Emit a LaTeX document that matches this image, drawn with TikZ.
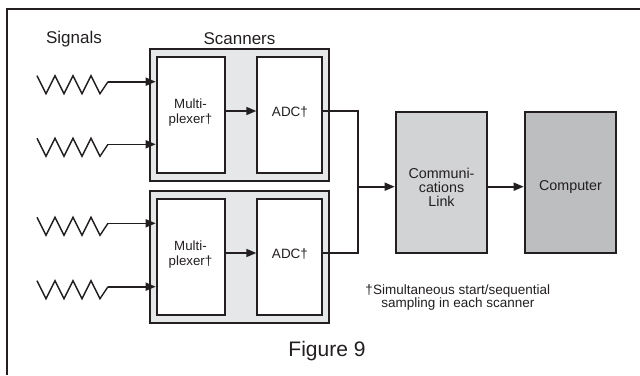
\documentclass[tikz,border=0pt]{standalone}
\usepackage{fontspec}
\setmainfont{Liberation Sans}
\usetikzlibrary{arrows.meta}
\definecolor{ink}{HTML}{231F20}
\definecolor{scanfill}{HTML}{E6E7E8}
\definecolor{commfill}{HTML}{D1D3D4}
\definecolor{compfill}{HTML}{BCBEC0}
\tikzset{
  box/.style={draw=ink, line width=2pt, inner sep=0pt, rectangle},
  conn/.style={draw=ink, line width=1.6pt},
  arr/.style={conn, -{Triangle[length=10pt,width=8pt]}},
  zig/.style={draw=ink, line width=1.4pt, line join=miter},
  lbl/.style={text=ink, inner sep=0pt, align=center, font=\fontsize{13.5}{15}\selectfont},
  title/.style={text=ink, inner sep=0pt, font=\fontsize{17}{20}\selectfont},
}
\begin{document}
\begin{tikzpicture}[x=1pt,y=-1pt]
\useasboundingbox (0,0) rectangle (640,375);
\fill[white] (0,0) rectangle (640,375);
% frame
\draw[ink, line width=2pt] (6.5,375) -- (6.5,8.5) -- (640,8.5);

% titles
\node[title] (tsig) at (74,39) {Signals};
\node[title] (tscan) at (239.5,39) {Scanners};

% scanners
\node[box, fill=scanfill, minimum width=179.2pt, minimum height=131.4pt] (scan1) at (239.1,115) {};
\node[box, fill=scanfill, minimum width=179.2pt, minimum height=132.3pt] (scan2) at (239.1,257.2) {};

\node[box, fill=white, minimum width=68.3pt, minimum height=116.6pt] (mux1) at (190.85,115) {};
\node[box, fill=white, minimum width=64.4pt, minimum height=116.6pt] (adc1) at (289.5,115) {};
\node[box, fill=white, minimum width=68.3pt, minimum height=116pt] (mux2) at (190.85,257) {};
\node[box, fill=white, minimum width=64.4pt, minimum height=116pt] (adc2) at (289.5,257) {};

\node[lbl, font=\fontsize{13.3}{15}\selectfont] (tmux1) at (190.5,112.5) {Multi-\\plexer†};
\node[lbl] (tadc1) at (290,112.3) {ADC†};
\node[lbl, font=\fontsize{13.3}{15}\selectfont] (tmux2) at (190.5,254.2) {Multi-\\plexer†};
\node[lbl] (tadc2) at (290,254.5) {ADC†};

% comm link and computer
\node[box, fill=commfill, minimum width=91pt, minimum height=141.6pt] (comm) at (441.2,182.5) {};
\node[box, fill=compfill, minimum width=91.6pt, minimum height=141.6pt] (comp) at (570.5,182.5) {};
\node[lbl, font=\fontsize{14.3}{14}\selectfont] (tcomm) at (441.5,187) {Communi-\\cations\\Link};
\node[lbl, font=\fontsize{14.3}{14}\selectfont] (tcomp) at (570.5,186.7) {Computer};

% signal zigzags and inputs
\foreach \n/\y in {s1/81.7, s2/144.3, s3/223.3, s4/286.7}{
  \coordinate (\n) at (108,\y);
  \draw[zig] (37,\y-6) -- (46,\y+12) -- (55,\y-6) -- (64,\y+12) -- (73,\y-6)
     -- (82,\y+12) -- (91,\y-6) -- (100,\y+12) -- (\n);
}
\draw[arr] (s1) -- (s1 -| mux1.west);
\draw[arr] (s2) -- (s2 -| mux1.west);
\draw[arr] (s3) -- (s3 -| mux2.west);
\draw[arr] (s4) -- (s4 -| mux2.west);

% mux -> adc
\coordinate (m1) at (225,111);
\coordinate (m2) at (225,253);
\draw[arr] (m1) -- (m1 -| adc1.west);
\draw[arr] (m2) -- (m2 -| adc2.west);

% adc -> comm link
\coordinate (j1) at (357.7,111);
\coordinate (j2) at (357.7,253);
\coordinate (jm) at (357.7,186.7);
\draw[conn, line join=miter] (m1 -| adc1.east) -- (j1) -- (j2) -- (m2 -| adc2.east);
\draw[arr] (jm) -- (jm -| comm.west);
\draw[arr] (comm.east |- jm) -- (comp.west |- jm);

% footnote and caption
\node[lbl, font=\fontsize{13.5}{13.4}\selectfont] (note) at (457.8,297.3) {†Simultaneous start/sequential\\sampling in each scanner};
\node[text=ink, inner sep=0pt, font=\fontsize{21}{24}\selectfont] (fig) at (327,351.5) {Figure 9};
\end{tikzpicture}
\end{document}
